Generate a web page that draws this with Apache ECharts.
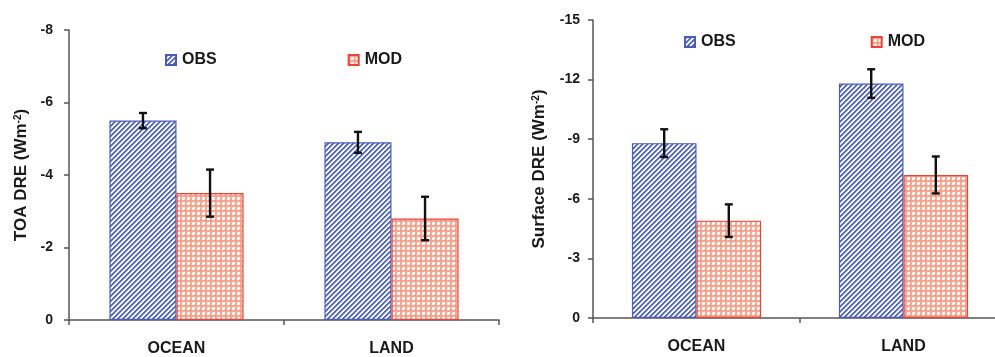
<!DOCTYPE html>
<html>
<head>
<meta charset="utf-8">
<script src="https://cdn.jsdelivr.net/npm/echarts@6/dist/echarts.min.js"></script>
<style>html,body{margin:0;padding:0;background:#fff}#c{width:995px;height:357px}</style>
</head>
<body>
<div id="c"></div>
<script>
const categories = ['OCEAN', 'LAND'];
const seriesNames = ['OBS', 'MOD'];
const toaObs = [-5.5, -4.9];
const toaObsErr = [0.21, 0.29];
const toaMod = [-3.5, -2.8];
const toaModErr = [0.65, 0.6];
const sfcObs = [-8.8, -11.8];
const sfcObsErr = [0.7, 0.72];
const sfcMod = [-4.9, -7.2];
const sfcModErr = [0.82, 0.93];
const toaTicks = {min: -8, max: 0, interval: 2};
const sfcTicks = {min: -15, max: 0, interval: 3};

function makeStripe() {
  const n = 5;
  const c = document.createElement('canvas');
  c.width = n; c.height = n;
  const g = c.getContext('2d');
  g.fillStyle = '#ffffff'; g.fillRect(0, 0, n, n);
  for (let x = 0; x < n; x++) for (let y = 0; y < n; y++) {
    const k = (x + y) % n;
    if (k < 2) { g.fillStyle = '#5368be'; g.fillRect(x, y, 1, 1); }
    else if (k === 2) { g.fillStyle = '#a4b1de'; g.fillRect(x, y, 1, 1); }
  }
  return c;
}
function makeCheck() {
  const n = 5;
  const c = document.createElement('canvas');
  c.width = n; c.height = n;
  const g = c.getContext('2d');
  g.fillStyle = '#f5a894'; g.fillRect(0, 0, n, n);
  g.fillStyle = '#ffffff';
  g.fillRect(2, 2, 3, 3);
  g.fillStyle = '#fbd6cb';
  g.fillRect(2, 2, 1, 1);
  g.fillRect(4, 4, 1, 1);
  g.fillStyle = '#f08a78';
  g.fillRect(0, 0, 1, 1);
  return c;
}
const obsFill = {image: makeStripe(), repeat: 'repeat'};
const modFill = {image: makeCheck(), repeat: 'repeat'};
const BAR_FRAC = 0.312;
const font = 'Liberation Sans, Arial, sans-serif';
const txt = '#1a1a1a';

function errSeries(vals, errs, sign, axisIdx) {
  return {
    type: 'custom',
    xAxisIndex: axisIdx, yAxisIndex: axisIdx,
    z: 10,
    silent: true,
    data: vals.map((v, i) => [i, v - errs[i], v + errs[i]]),
    encode: {x: 0, y: [1, 2]},
    renderItem: function (params, api) {
      const i = api.value(0);
      const lo = api.coord([i, api.value(1)]);
      const hi = api.coord([i, api.value(2)]);
      const cw = api.size([1, 0])[0];
      const cx = lo[0] + sign * cw * BAR_FRAC / 2;
      const st = {stroke: '#111', lineWidth: 2.4};
      const cap = 4;
      return {
        type: 'group',
        children: [
          {type: 'line', shape: {x1: cx, y1: lo[1], x2: cx, y2: hi[1]}, style: st},
          {type: 'line', shape: {x1: cx - cap, y1: lo[1], x2: cx + cap, y2: lo[1]}, style: st},
          {type: 'line', shape: {x1: cx - cap, y1: hi[1], x2: cx + cap, y2: hi[1]}, style: st}
        ]
      };
    }
  };
}

function barSeries(name, vals, fill, border, axisIdx) {
  return {
    name: name, type: 'bar',
    xAxisIndex: axisIdx, yAxisIndex: axisIdx,
    barWidth: (BAR_FRAC * 100) + '%', barGap: '0%',
    data: vals,
    itemStyle: {color: fill, borderColor: border, borderWidth: 1.2},
    emphasis: {disabled: true}
  };
}

const axisLineStyle = {color: '#555', width: 1.5};
function yAxis(g, t, name, gap, margin) {
  return {
    gridIndex: g,
    type: 'value', min: t.min, max: t.max, interval: t.interval, inverse: true,
    axisLine: {show: true, lineStyle: axisLineStyle},
    axisTick: {show: true, length: 5, lineStyle: axisLineStyle},
    splitLine: {show: false},
    axisLabel: {color: txt, fontSize: 14, fontWeight: 'bold', fontFamily: font, margin: margin},
    name: name, nameLocation: 'middle', nameGap: gap, nameRotate: 90,
    nameTextStyle: {
      rich: {
        a: {fontSize: 17, fontWeight: 'bold', fontFamily: font, color: txt},
        s: {fontSize: 10, fontWeight: 'bold', fontFamily: font, color: txt, verticalAlign: 'top', padding: [0, 0, 7, 0]}
      }
    }
  };
}
function xAxis(g, margin) {
  return {
    gridIndex: g,
    type: 'category', data: categories,
    axisLine: {show: true, lineStyle: axisLineStyle},
    axisTick: {show: true, length: 5, lineStyle: axisLineStyle},
    axisLabel: {color: txt, fontSize: 16, fontWeight: 'bold', fontFamily: font, margin: margin}
  };
}
function legend(left, top, gap) {
  return {
    data: seriesNames, left: left, top: top, padding: 0,
    itemWidth: 10, itemHeight: 10, itemGap: gap, icon: 'rect',
    selectedMode: false,
    textStyle: {color: txt, fontSize: 16, fontWeight: 'bold', fontFamily: font, padding: [0, 0, 0, 1]}
  };
}

const chart = echarts.init(document.getElementById('c'), null, {renderer: 'canvas'});
chart.setOption({
  backgroundColor: '#fff',
  animation: false,
  grid: [
    {left: 69, top: 30, width: 430, height: 290, outerBoundsMode: 'none'},
    {left: 593, top: 20, width: 414, height: 298, outerBoundsMode: 'none'}
  ],
  legend: [legend(165, 52, 131), legend(684, 34, 135)],
  xAxis: [xAxis(0, 21), xAxis(1, 21)],
  yAxis: [
    yAxis(0, toaTicks, '{a|TOA DRE (Wm}{s|-2}{a|)}', 39, 16),
    yAxis(1, sfcTicks, '{a|Surface DRE (Wm}{s|-2}{a|)}', 45, 13)
  ],
  series: [
    barSeries('OBS', toaObs, obsFill, '#4a5cb5', 0),
    barSeries('MOD', toaMod, modFill, '#e8453a', 0),
    barSeries('OBS', sfcObs, obsFill, '#4a5cb5', 1),
    barSeries('MOD', sfcMod, modFill, '#e8453a', 1),
    errSeries(toaObs, toaObsErr, -1, 0),
    errSeries(toaMod, toaModErr, 1, 0),
    errSeries(sfcObs, sfcObsErr, -1, 1),
    errSeries(sfcMod, sfcModErr, 1, 1)
  ]
});
</script>
</body>
</html>
